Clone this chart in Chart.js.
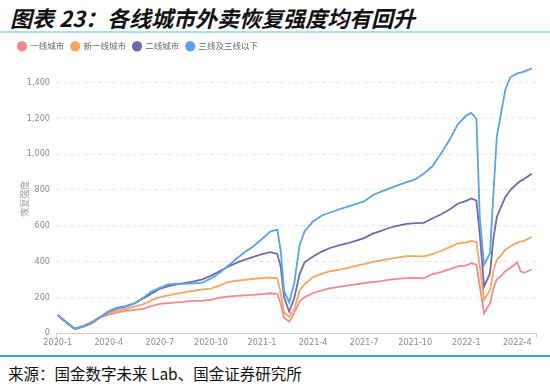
<!DOCTYPE html>
<html>
<head>
<meta charset="utf-8">
<script src="https://cdn.jsdelivr.net/npm/chart.js@4.4.1/dist/chart.umd.min.js"></script>
<style>
  html, body { margin: 0; padding: 0; background: #fff; }
  body { width: 550px; height: 388px; position: relative; overflow: hidden; }
  #title { position: absolute; left: 10px; top: 1px; font-family: 'Noto Sans CJK SC', sans-serif; font-size: 22px; font-weight: bold; font-style: italic; color: #111; white-space: nowrap; }
  #topline { position: absolute; left: 0; top: 31px; width: 550px; height: 2px; background: #a9ddf3; }
  #wrap { position: absolute; left: 0; top: 35px; width: 550px; height: 320px; }
  #bottomline { position: absolute; left: 0; top: 355px; width: 550px; height: 2px; background: #2eaae3; }
  #source { position: absolute; left: 8px; top: 362px; font-family: 'Noto Sans CJK SC', sans-serif; font-size: 15.5px; color: #111; white-space: nowrap; }
</style>
</head>
<body>
<div id="title">图表 23：各线城市外卖恢复强度均有回升</div>
<div id="topline"></div>
<div id="wrap"><canvas id="c"></canvas></div>
<div id="bottomline"></div>
<div id="source">来源：国金数字未来 Lab、国金证券研究所</div>
<script>
// x positions: months since 2020-1
const months = [0,0.5,1,1.5,2,2.5,3,3.5,4,4.5,5,5.5,6,6.5,7,7.5,8,8.5,9,9.5,10,10.5,11,11.5,12,12.5,12.9,13.1,13.3,13.6,13.9,14.2,14.5,15,15.5,16,16.5,17,17.5,18,18.5,19,19.5,20,20.5,21,21.5,22,22.5,23,23.5,24,24.3,24.6,24.8,25.05,25.4,25.6,25.8,26.05,26.3,26.6,27,27.2,27.4,27.85];

const seriesNames = ['一线城市', '新一线城市', '二线城市', '三线及三线以下'];

const tier1 = [100,60,25,40,62,88,103,114,124,129,135,150,163,167,171,175,180,181,185,197,203,207,210,213,217,222,218,166,85,63,112,175,200,222,238,250,258,265,272,279,285,290,298,302,307,308,305,328,340,355,372,378,390,381,260,110,166,250,300,320,345,365,395,345,336,355];
const newTier1 = [100,60,25,40,62,90,112,125,135,148,160,182,200,210,220,228,236,244,248,265,284,292,297,303,306,310,305,225,115,91,135,235,272,312,330,345,353,362,375,385,397,405,414,422,429,430,428,440,458,478,500,506,515,508,370,185,240,350,410,435,465,485,505,510,515,536];
const tier2 = [100,60,22,35,55,88,120,138,148,165,191,220,247,262,272,280,289,300,320,345,370,392,410,425,440,452,442,371,200,119,195,325,395,427,455,475,490,500,515,530,555,570,588,600,610,614,615,640,662,688,722,738,752,740,550,259,334,530,650,705,760,800,835,850,860,890];
const tier3 = [100,60,22,35,55,88,122,142,150,165,195,232,252,272,276,275,277,281,305,335,375,415,452,485,525,568,578,460,235,170,280,485,567,623,655,673,690,705,720,735,770,790,808,826,843,858,890,930,1000,1075,1165,1215,1230,1197,640,381,446,782,1099,1230,1361,1430,1450,1455,1460,1478];

const xTickMonths = [0,3,6,9,12,15,18,21,24,27];
const xTickLabels = ['2020-1','2020-4','2020-7','2020-10','2021-1','2021-4','2021-7','2021-10','2022-1','2022-4'];
const yTickValues = [0,200,400,600,800,1000,1200,1400];

const colors = ['#f08a8c', '#f6a65f', '#7368a9', '#59a3e8'];
const allSeries = [tier1, newTier1, tier2, tier3];

const narrow = "'Liberation Sans Narrow', 'DejaVu Sans Condensed', 'Liberation Sans', sans-serif";

const datasets = allSeries.map((vals, i) => ({
  label: seriesNames[i],
  data: months.map((m, j) => ({ x: m, y: vals[j] })),
  borderColor: colors[i],
  backgroundColor: colors[i],
  borderWidth: 1.8,
  pointRadius: 0,
  tension: 0,
  fill: false,
  order: allSeries.length - 1 - i
}));

const legendPad = {
  id: 'legendPad',
  beforeLayout(chart) {
    const lg = chart.legend;
    if (lg && !lg._padded) {
      const f = lg.fit;
      lg.fit = function () { f.call(this); this.height += 4; };
      lg._padded = true;
    }
  }
};

const axisEndTicks = {
  id: 'axisEndTicks',
  afterDraw(chart) {
    const { ctx, chartArea: { left, right, bottom } } = chart;
    ctx.save();
    ctx.strokeStyle = '#cfcfcf';
    ctx.lineWidth = 1;
    ctx.beginPath();
    [left, right].forEach(x => {
      const px = Math.round(x) + 0.5;
      ctx.moveTo(px, bottom);
      ctx.lineTo(px, bottom + 5);
    });
    ctx.stroke();
    ctx.restore();
  }
};

new Chart(document.getElementById('c'), {
  type: 'line',
  data: { datasets },
  plugins: [legendPad, axisEndTicks],
  options: {
    responsive: true,
    maintainAspectRatio: false,
    animation: false,
    layout: { padding: { left: 11, right: 14, top: 0, bottom: 0 } },
    plugins: {
      tooltip: { enabled: false },
      legend: {
        display: true,
        position: 'top',
        align: 'start',
        labels: {
          usePointStyle: true,
          pointStyle: 'circle',
          boxWidth: 8,
          boxHeight: 6,
          padding: 7,
          color: '#666',
          font: { size: 8.5, family: "'Noto Sans CJK SC', sans-serif" },
          sort: (a, b) => a.datasetIndex - b.datasetIndex
        }
      }
    },
    scales: {
      x: {
        type: 'linear',
        min: -0.1,
        max: 28.1,
        afterBuildTicks: s => { s.ticks = xTickMonths.map(v => ({ value: v })); },
        afterFit: s => { s.height = 22; },
        ticks: {
          autoSkip: false,
          maxRotation: 0,
          padding: 4,
          color: '#8a8a8a',
          font: { size: 9, family: narrow },
          callback: (v) => { const k = xTickMonths.indexOf(v); return k >= 0 ? xTickLabels[k] : ''; }
        },
        grid: { display: true, drawOnChartArea: false, drawTicks: false, color: 'rgba(0,0,0,0)' },
        border: { display: true, color: '#d0d0d0', width: 1 }
      },
      y: {
        type: 'linear',
        min: 0,
        max: 1500,
        afterBuildTicks: s => { s.ticks = yTickValues.map(v => ({ value: v })); },
        afterFit: s => { s.width = 45; },
        ticks: {
          padding: 6,
          color: '#8a8a8a',
          font: { size: 9, family: narrow }
        },
        grid: { color: '#e4e4e4', drawTicks: false, lineWidth: 1 },
        border: { display: false, dash: [4, 3] },
        title: {
          display: true,
          text: '恢复强度',
          color: '#9a9a9a',
          font: { size: 9, family: "'Noto Sans CJK SC', sans-serif" },
          padding: { top: 8, bottom: 0 }
        }
      }
    }
  }
});
</script>
</body>
</html>
